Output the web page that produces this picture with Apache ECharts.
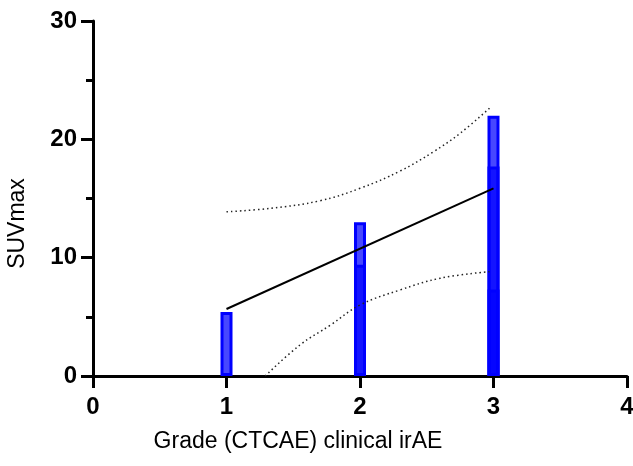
<!DOCTYPE html>
<html><head><meta charset="utf-8">
<script src="https://cdn.jsdelivr.net/npm/echarts@6/dist/echarts.min.js"></script>
<style>html,body{margin:0;padding:0;background:#fff}#c{width:633px;height:466px}</style>
</head><body><div id="c"></div>
<script>
// Individual SUVmax values drawn as overlapping bars per grade
var grades = [1, 2, 3];
var barsA = [5.4, 13.0, 22.0];
var barsB = [null, 9.4, 17.7];
var barsC = [null, null, 7.3];
// Linear fit
var fitX = [1, 3];
var fitY = [5.66, 15.86];
// 95% confidence band
var upperX = [1.0, 1.33, 1.70, 2.0, 2.30, 2.55, 2.75, 2.97];
var upperY = [13.88, 14.17, 14.81, 15.86, 17.32, 18.95, 20.51, 22.63];
var lowerX = [1.29, 1.55, 1.78, 2.0, 2.30, 2.60, 2.97];
var lowerY = [0.0, 2.62, 4.31, 6.0, 7.27, 8.26, 8.82];
var xTicks = [0, 1, 2, 3, 4];
var yTicks = [0, 10, 20, 30];

function pairs(xs, ys) { return xs.map(function (x, i) { return ys[i] == null ? null : [x, ys[i]]; }).filter(function(p){return p;}); }
function barSeries(vals) {
  return {
    type: 'bar', data: pairs(grades, vals), barWidth: 12, barGap: '-100%',
    itemStyle: { color: 'rgba(0,0,255,0.72)', borderColor: '#0000ff', borderWidth: 3 },
    silent: true, z: 2
  };
}
var font = 'Liberation Sans, Arial, sans-serif';
var chart = echarts.init(document.getElementById('c'));
chart.setOption({
  animation: false,
  grid: { left: 93, right: 6, top: 21, bottom: 90, containLabel: false, outerBoundsMode: 'none' },
  xAxis: {
    type: 'value', min: 0, max: 4, interval: 1,
    name: 'Grade (CTCAE) clinical irAE', nameLocation: 'middle', nameGap: 54,
    nameTextStyle: { fontFamily: font, fontSize: 23, color: '#000', padding: [0, 124, 0, 0] },
    axisLine: { onZero: false, lineStyle: { color: '#000', width: 3 } },
    axisTick: { show: true, length: 12, lineStyle: { color: '#000', width: 3 } },
    axisLabel: { margin: 19, fontFamily: font, fontSize: 24, fontWeight: 'bold', color: '#000',
      formatter: function (v) { return xTicks.indexOf(v) >= 0 ? String(v) : ''; } },
    splitLine: { show: false }
  },
  yAxis: {
    type: 'value', min: 0, max: 30, interval: 10,
    name: 'SUVmax', nameLocation: 'middle', nameGap: 64,
    nameTextStyle: { fontFamily: font, fontSize: 23, color: '#000', padding: [0, 50, 0, 0] },
    axisLine: { onZero: false, lineStyle: { color: '#000', width: 3 } },
    axisTick: { show: true, length: 12, lineStyle: { color: '#000', width: 3 } },
    minorTick: { show: true, splitNumber: 2, length: 7, lineStyle: { color: '#000', width: 3 } },
    axisLabel: { margin: 16, fontFamily: font, fontSize: 24, fontWeight: 'bold', color: '#000',
      formatter: function (v) { return yTicks.indexOf(v) >= 0 ? String(v) : ''; } },
    splitLine: { show: false }
  },
  series: [
    barSeries(barsA), barSeries(barsB), barSeries(barsC),
    { type: 'line', data: pairs(fitX, fitY), symbol: 'none', lineStyle: { color: '#000', width: 2 }, z: 5 },
    { type: 'line', data: pairs(upperX, upperY), symbol: 'none', smooth: 0.4,
      lineStyle: { color: '#222', width: 1.5, type: [1.5, 3] }, z: 5 },
    { type: 'line', data: pairs(lowerX, lowerY), symbol: 'none', smooth: 0.4,
      lineStyle: { color: '#222', width: 1.5, type: [1.5, 3] }, z: 5 }
  ]
});
</script></body></html>
